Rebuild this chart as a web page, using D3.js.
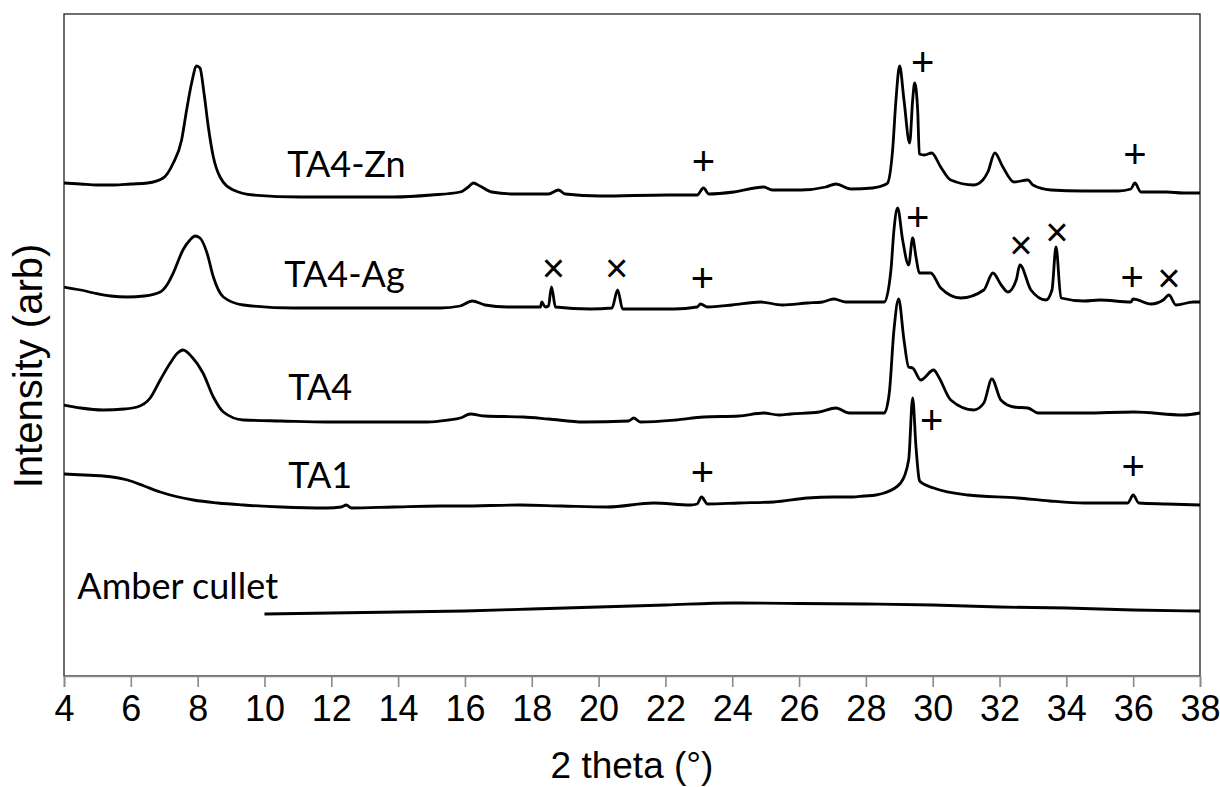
<!DOCTYPE html>
<html>
<head>
<meta charset="utf-8">
<script src="https://cdn.jsdelivr.net/npm/d3@7.9.0/dist/d3.min.js"></script>
<style>
  body { margin: 0; background: #fff; }
  svg { display: block; }
  .tick text { font-family: "Liberation Sans", Arial, sans-serif; }
</style>
</head>
<body>
<svg id="chart" width="1220" height="787"></svg>
<script>
// 2 theta (deg) / intensity (arb) pairs
const ta4Zn = [
  [4.0, 493], [4.5, 492], [5.0, 491], [5.5, 491], [6.0, 492], [6.5, 493],
  [6.97, 498], [7.27, 513], [7.52, 536], [7.67, 566], [7.82, 593], [7.97, 610],
  [8.07, 608], [8.19, 583], [8.32, 549], [8.47, 519], [8.67, 499], [9.07, 486],
  [9.67, 481], [11.07, 479], [13.07, 479], [13.86, 479], [15.0, 481], [15.86, 484],
  [16.1, 489], [16.25, 493], [16.45, 490], [16.8, 484], [17.5, 482], [18.5, 482],
  [18.8, 486], [19.0, 482], [20.05, 480], [22.06, 481], [22.95, 481], [23.14, 488],
  [23.3, 482], [24.05, 484], [24.94, 489], [25.2, 486], [26.05, 486], [26.8, 489],
  [27.1, 492], [27.55, 487], [28.2, 488], [28.55, 491], [28.65, 493], [28.8, 526],
  [28.9, 576], [29.01, 610], [29.14, 576], [29.31, 533], [29.4, 576], [29.46, 593],
  [29.55, 566], [29.6, 522], [29.75, 521], [29.97, 523], [30.24, 509], [30.54, 496],
  [31.23, 491], [31.5, 496], [31.65, 504], [31.86, 523], [32.1, 509], [32.43, 494],
  [32.85, 496], [33.0, 491], [33.54, 486], [34.5, 485], [35.55, 485], [35.93, 487],
  [36.05, 493], [36.23, 484], [37.0, 484], [37.5, 483], [38.0, 483]
];
const ta4Ag = [
  [4.0, 389], [4.5, 386], [4.9, 383], [5.4, 380], [5.9, 379], [6.4, 380],
  [6.88, 384], [7.1, 392], [7.27, 403], [7.56, 426], [7.77, 436], [7.92, 440],
  [8.07, 438], [8.28, 423], [8.47, 399], [8.77, 379], [9.37, 371], [10.87, 368],
  [13.86, 368], [15.26, 368], [15.86, 370], [16.22, 375], [16.6, 371], [17.27, 369],
  [18.26, 369], [18.3, 374], [18.4, 369], [18.5, 370], [18.59, 389], [18.71, 369],
  [19.76, 367], [20.4, 368], [20.57, 386], [20.72, 367], [22.25, 367], [22.95, 369],
  [23.05, 372], [23.26, 369], [24.0, 371], [24.85, 374], [25.5, 371], [26.25, 373],
  [26.7, 374], [27.04, 377], [27.4, 374], [27.85, 374], [28.55, 374], [28.75, 406],
  [28.84, 446], [28.95, 468], [29.1, 436], [29.28, 411], [29.4, 438], [29.5, 419],
  [29.6, 403], [29.94, 403], [30.24, 388], [30.84, 378], [31.53, 386], [31.8, 403],
  [32.05, 391], [32.25, 384], [32.5, 396], [32.61, 411], [32.94, 386], [33.39, 376],
  [33.57, 386], [33.69, 429], [33.84, 378], [34.53, 375], [35.0, 376], [35.93, 374],
  [36.0, 377], [36.53, 372], [36.9, 376], [37.07, 381], [37.28, 371], [37.8, 374], [38.0, 374]
];
const ta4 = [
  [4.0, 271], [4.5, 268], [5.17, 266], [5.8, 267], [6.19, 269], [6.58, 278],
  [6.88, 296], [7.18, 313], [7.4, 323], [7.56, 326], [7.83, 319], [8.16, 303],
  [8.47, 279], [8.77, 264], [9.37, 256], [10.5, 255], [11.87, 254], [14.87, 254],
  [15.5, 256], [15.86, 258], [16.16, 262], [16.6, 260], [17.75, 259], [18.5, 257],
  [19.55, 254], [20.9, 255], [21.05, 258], [21.25, 254], [22.3, 256], [23.14, 259],
  [24.2, 260], [24.94, 263], [25.4, 261], [25.75, 262], [26.6, 264], [27.1, 268],
  [27.5, 263], [27.85, 263], [28.55, 263], [28.7, 283], [28.84, 346], [28.98, 377],
  [29.14, 336], [29.28, 309], [29.4, 308], [29.64, 296], [30.03, 306], [30.18, 299],
  [30.54, 276], [31.23, 266], [31.53, 273], [31.77, 297], [32.04, 276], [32.43, 269],
  [32.85, 268], [33.15, 263], [34.53, 263], [36.02, 264], [37.5, 261], [38.0, 263]
];
const ta1 = [
  [4.0, 202], [4.6, 201], [5.17, 200], [5.9, 196], [6.4, 190], [6.88, 184],
  [7.87, 176], [8.6, 173], [9.37, 171], [10.5, 169], [11.87, 168], [12.3, 169],
  [12.45, 171], [12.6, 168], [13.86, 169], [15.26, 170], [15.86, 170], [17.66, 171], [18.9, 170],
  [20.27, 169], [21.65, 173], [22.75, 171], [22.95, 172], [23.08, 179], [23.26, 172],
  [24.2, 173], [25.24, 174], [26.25, 178], [27.04, 179], [27.6, 179], [27.94, 180],
  [28.3, 181], [28.55, 183], [29.04, 193], [29.28, 216], [29.4, 278], [29.5, 229],
  [29.6, 196], [29.64, 194], [30.03, 188], [31.05, 181], [32.55, 178], [33.5, 175],
  [34.53, 173], [35.84, 173], [36.0, 181], [36.17, 173], [37.0, 172], [38.0, 171]
];
const amberCullet = [
  [10, 62], [12, 63], [14, 64], [16, 65], [18, 67], [20, 69], [22, 71],
  [24, 73], [26, 72.5], [28, 72], [30, 71], [32, 69], [34, 68], [36, 66], [38, 65]
];

const seriesLabels = [
  { name: "TA4-Zn", x: 10.68, y: 499 },
  { name: "TA4-Ag", x: 10.59, y: 389 },
  { name: "TA4", x: 10.71, y: 276 },
  { name: "TA1", x: 10.71, y: 188 },
  { name: "Amber cullet", x: 4.4, y: 77 }
];

// + and x peak markers
const peakMarks = [
  { s: "+", x: 29.70, y: 614 }, { s: "+", x: 23.14, y: 515 }, { s: "+", x: 36.05, y: 522 },
  { s: "×", x: 18.65, y: 408 }, { s: "×", x: 20.54, y: 408 }, { s: "+", x: 23.11, y: 398 },
  { s: "+", x: 29.55, y: 459 }, { s: "×", x: 32.64, y: 431 }, { s: "×", x: 33.72, y: 444 },
  { s: "+", x: 35.97, y: 399 }, { s: "×", x: 37.07, y: 398 },
  { s: "+", x: 29.97, y: 256 }, { s: "+", x: 23.11, y: 204 }, { s: "+", x: 36.0, y: 210 }
];

const xTicks = d3.range(4, 39, 2);

const margin = { top: 14, right: 20, bottom: 111, left: 64 };
const svg = d3.select("#chart");
const width = +svg.attr("width") - margin.left - margin.right;
const height = +svg.attr("height") - margin.top - margin.bottom;

const g = svg.append("g").attr("transform", `translate(${margin.left},${margin.top})`);

const x = d3.scaleLinear().domain([4, 38]).range([0, width]);
const y = d3.scaleLinear().domain([0, 662]).range([height, 0]);

// frame
g.append("rect")
  .attr("width", width).attr("height", height)
  .attr("fill", "none").attr("stroke", "#222").attr("stroke-width", 1.3);

const xAxis = g.append("g")
  .attr("transform", `translate(0,${height})`)
  .call(d3.axisBottom(x).tickValues(xTicks).tickSize(11).tickPadding(8).tickFormat(d3.format("d")));
xAxis.select(".domain").attr("stroke", "#8a8a8a").attr("stroke-width", 1.6);
xAxis.selectAll(".tick line").attr("stroke", "#8a8a8a").attr("stroke-width", 1.6);
xAxis.selectAll(".tick text").attr("font-size", 36).attr("fill", "#000");

const line = d3.line().x(d => x(d[0])).y(d => y(d[1])).curve(d3.curveMonotoneX);

[ta4Zn, ta4Ag, ta4, ta1, amberCullet].forEach(s => {
  g.append("path")
    .attr("d", line(s))
    .attr("fill", "none")
    .attr("stroke", "#000")
    .attr("stroke-width", 2.8)
    .attr("stroke-linejoin", "round");
});

g.selectAll(".series-label")
  .data(seriesLabels)
  .enter().append("text")
  .attr("x", d => x(d.x))
  .attr("y", d => y(d.y))
  .attr("font-family", "Lato, 'Open Sans', sans-serif")
  .attr("font-size", 36)
  .text(d => d.name);

g.selectAll(".mark")
  .data(peakMarks)
  .enter().append("text")
  .attr("x", d => x(d.x))
  .attr("y", d => y(d.y))
  .attr("text-anchor", "middle")
  .attr("dy", "0.34em")
  .attr("font-family", "'Liberation Sans', Arial, sans-serif")
  .attr("font-size", 40)
  .text(d => d.s);

// axis titles
svg.append("text")
  .attr("x", margin.left + width / 2)
  .attr("y", 778)
  .attr("text-anchor", "middle")
  .attr("font-family", "'Liberation Sans', Arial, sans-serif")
  .attr("font-size", 37)
  .text("2 theta (°)");

svg.append("text")
  .attr("transform", "translate(42,366) rotate(-90)")
  .attr("text-anchor", "middle")
  .attr("font-family", "'Liberation Sans', Arial, sans-serif")
  .attr("font-size", 40)
  .text("Intensity (arb)");
</script>
</body>
</html>
